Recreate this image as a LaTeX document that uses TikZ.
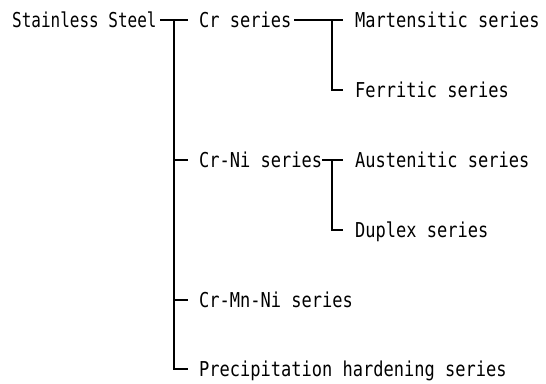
\documentclass[tikz,border=0pt]{standalone}
\usepackage{fontspec}
\newfontfamily\gothic[FakeStretch=0.83]{DejaVu Sans Mono}
\newfontfamily\gothicnarrow[FakeStretch=0.78]{DejaVu Sans Mono}
\begin{document}
\begin{tikzpicture}[x=1pt,y=1pt,
  label/.style={anchor=west,inner sep=0pt,text height=15pt,text depth=0pt,
    font=\gothic\fontsize{20.5}{22}\selectfont},
  branch/.style={line width=1.7pt,line cap=rect}]
\useasboundingbox (0,0) rectangle (546,-383);
% nodes
\node[label,font=\gothicnarrow\fontsize{20.5}{22}\selectfont] (ss) at (12,-20) {Stainless Steel};
\node[label] (cr)   at (199,-20) {Cr series};
\node[label] (mart) at (355,-20) {Martensitic series};
\node[label] (ferr) at (355,-90) {Ferritic series};
\node[label] (crni) at (199,-160) {Cr-Ni series};
\node[label] (aus)  at (355,-160) {Austenitic series};
\node[label] (dup)  at (355,-230) {Duplex series};
\node[label] (crmn) at (199,-300) {Cr-Mn-Ni series};
\node[label] (ph)   at (199,-369) {Precipitation hardening series};
% trunk
\coordinate (trunk) at (174,-20);
\draw[branch] ([xshift=4pt]ss.east) -- ([xshift=-12pt]cr.west);
\draw[branch] (trunk) |- ([xshift=-12pt]ph.west);
\draw[branch] (trunk |- crni) -- ([xshift=-12pt]crni.west);
\draw[branch] (trunk |- crmn) -- ([xshift=-12pt]crmn.west);
% Cr series branch
\coordinate (crfork) at (332,-20);
\draw[branch] ([xshift=3pt]cr.east) -- ([xshift=-13pt]mart.west);
\draw[branch] (crfork) |- ([xshift=-13pt]ferr.west);
% Cr-Ni series branch
\coordinate (nifork) at (332,-160);
\draw[branch] ([xshift=1pt]crni.east) -- ([xshift=-13pt]aus.west);
\draw[branch] (nifork) |- ([xshift=-13pt]dup.west);
\end{tikzpicture}
\end{document}
